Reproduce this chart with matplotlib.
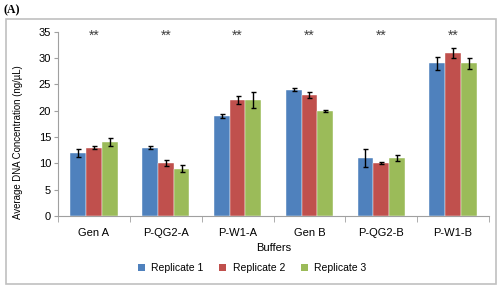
import numpy as np
import matplotlib
matplotlib.use("Agg")
import matplotlib.pyplot as plt
from matplotlib.patches import Rectangle, Patch

buffers = ["Gen A", "P-QG2-A", "P-W1-A", "Gen B", "P-QG2-B", "P-W1-B"]
series = ["Replicate 1", "Replicate 2", "Replicate 3"]
rep1 = [12, 13, 19, 24, 11, 29]
rep2 = [13, 10, 22, 23, 10, 31]
rep3 = [14, 9, 22, 20, 11, 29]
err1 = [0.8, 0.3, 0.3, 0.3, 1.7, 1.2]
err2 = [0.3, 0.6, 0.8, 0.5, 0.2, 1.0]
err3 = [0.8, 0.6, 1.5, 0.2, 0.5, 1.0]
colors = ["#4F81BD", "#C0504D", "#9BBB59"]

plt.rcParams['font.family'] = ['Liberation Sans', 'DejaVu Sans']

fig = plt.figure(figsize=(5, 2.89), dpi=100)
ax = fig.add_axes([0.116, 0.253, 0.862, 0.637])

x = np.arange(len(buffers))
w = 0.22
for i, (vals, errs) in enumerate(zip([rep1, rep2, rep3], [err1, err2, err3])):
    ax.bar(x + (i - 1) * w, vals, w, yerr=errs, color=colors[i],
           edgecolor="white", linewidth=0.3,
           error_kw=dict(ecolor="black", elinewidth=1, capsize=1.8, capthick=1))

# significance marks
for xi in x:
    ax.text(xi, 34.2, "**", ha="center", va="center", fontsize=10, color="#404040")

ax.set_xlim(-0.5, len(buffers) - 0.5)
ax.set_ylim(0, 35)
ax.set_yticks(range(0, 36, 5))
ax.set_xticks(x)
ax.set_xticklabels(buffers)
ax.set_xticks(np.arange(-0.5, len(buffers), 1), minor=True)
ax.tick_params(axis="x", which="major", length=0, labelsize=8, pad=9)
ax.tick_params(axis="x", which="minor", length=4, color="#A0A0A0")
ax.tick_params(axis="y", length=3, color="#A0A0A0", labelsize=8, pad=2)
for s in ["top", "right"]:
    ax.spines[s].set_visible(False)
for s in ["left", "bottom"]:
    ax.spines[s].set_color("#A0A0A0")
ax.set_xlabel("Buffers", fontsize=8, labelpad=3)
ax.set_ylabel("Average DNA Concentration (ng/\u00b5L)", fontsize=6.9)
ax.yaxis.set_label_coords(-0.082, 0.40)

handles = [Patch(facecolor=c, edgecolor="none") for c in colors]
ax.legend(handles, series, loc="center", bbox_to_anchor=(0.45, -0.285), ncol=3,
          frameon=False, fontsize=7.5, handlelength=0.7, handleheight=0.7,
          columnspacing=1.5, handletextpad=0.6)

fig.patches.append(Rectangle((0.011, 0.017), 0.98, 0.918, transform=fig.transFigure,
                             fill=False, edgecolor="#C0C0C0", linewidth=1.2))
fig.text(0.008, 0.985, "(A)", fontsize=8.5, fontweight="bold", family="Liberation Serif",
         va="top", ha="left")

fig.savefig("out.png", dpi=100)
